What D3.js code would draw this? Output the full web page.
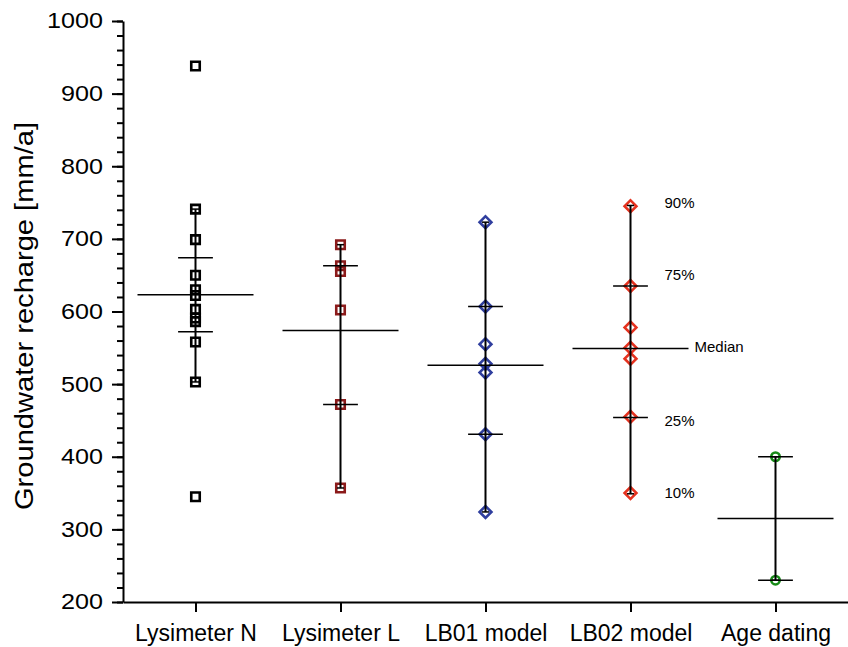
<!DOCTYPE html>
<html>
<head>
<meta charset="utf-8">
<script src="https://cdn.jsdelivr.net/npm/d3@7"></script>
<style>
  body { margin: 0; background: #fff; }
  svg { font-family: "Liberation Sans", Arial, sans-serif; }
</style>
</head>
<body>
<div id="svgcontainer"></div>
<script>
// values
const categories = ["Lysimeter N", "Lysimeter L", "LB01 model", "LB02 model", "Age dating"];
const lysimeterN = [938, 741, 699, 650, 630, 622, 603, 591, 586, 558, 503, 345];
const lysimeterL = [692, 663, 655, 602, 472, 357];
const lb01Model = [723, 607, 555, 528, 516, 431, 324];
const lb02Model = [745, 635, 578, 550, 535, 455, 350];
const ageDating = [400, 230];
const p90 = [741, 692, 723, 746, 400];
const p75 = [674, 663, 607, 635, 400];
const median = [623, 574, 526, 549, 315];
const p25 = [572, 472, 431, 454, 230];
const p10 = [503, 357, 324, 349, 230];
const noteLabels = ["90%", "75%", "Median", "25%", "10%"];
const noteLevels = [750, 650, 552, 450, 350];
const yTicks = [200, 300, 400, 500, 600, 700, 800, 900, 1000];

let width = 848;
let height = 647;
let margins = { top: 21, right: 0, bottom: 45, left: 123 };

let series = [
    { values: lysimeterN, shape: d3.symbolSquare, size: 72, rotate: 0, color: "#000000" },
    { values: lysimeterL, shape: d3.symbolSquare, size: 72, rotate: 0, color: "#8b1a1a" },
    { values: lb01Model, shape: d3.symbolSquare, size: 70, rotate: 45, color: "#2f3e9e" },
    { values: lb02Model, shape: d3.symbolSquare, size: 70, rotate: 45, color: "#e5321f" },
    { values: ageDating, shape: d3.symbolCircle, size: 56, rotate: 0, color: "#178a17" }
];
series.forEach((s, i) => {
    s.cat = categories[i];
    s.p90 = p90[i]; s.p75 = p75[i]; s.median = median[i]; s.p25 = p25[i]; s.p10 = p10[i];
});

let svg = d3.select("#svgcontainer")
    .append("svg")
    .attr("width", width)
    .attr("height", height);

let x = d3.scalePoint()
    .domain(categories)
    .range([margins.left, width - margins.right])
    .padding(0.5);
let y = d3.scaleLinear()
    .domain([200, 1000])
    .range([height - margins.bottom, margins.top]);
let step = x.step();

// axes
let yAxis = svg.append("g")
    .attr("class", "yaxis axis")
    .attr("transform", "translate(" + margins.left + ",0)");
yAxis.call(d3.axisLeft(y).tickValues(d3.range(200, 1001, 20)).tickSize(6).tickSizeOuter(0).tickFormat(""));
yAxis.append("g")
    .call(d3.axisLeft(y).tickValues(yTicks).tickSize(11).tickSizeOuter(0).tickPadding(9).tickFormat(d3.format("d")))
    .call(g => g.select(".domain").remove())
    .selectAll("text")
    .attr("font-size", 21.5)
    .attr("font-family", "Liberation Sans, Arial, sans-serif")
    .attr("fill", "#000")
    .attr("x", -20 / 1.17)
    .attr("transform", "scale(1.17,1)");
yAxis.selectAll("path, line").attr("stroke", "#000").attr("stroke-width", 2);

let xAxis = svg.append("g")
    .attr("class", "xaxis axis")
    .attr("transform", "translate(0," + y(200) + ")")
    .call(d3.axisBottom(x).tickSize(10).tickSizeOuter(0).tickPadding(13));
xAxis.selectAll("path, line").attr("stroke", "#000").attr("stroke-width", 2);
xAxis.selectAll("text")
    .attr("font-size", 23)
    .attr("font-family", "Liberation Sans, Arial, sans-serif")
    .attr("fill", "#000");

svg.append("text")
    .attr("transform", "translate(33," + 316 + ") rotate(-90)")
    .attr("text-anchor", "middle")
    .attr("font-size", 25)
    .attr("textLength", 388)
    .attr("lengthAdjust", "spacingAndGlyphs")
    .text("Groundwater recharge [mm/a]");

// points
let groups = svg.selectAll("g.cat")
    .data(series)
    .enter()
    .append("g")
    .attr("class", "cat")
    .attr("transform", d => "translate(" + x(d.cat) + ",0)");

groups.each(function (s) {
    let g = d3.select(this);
    g.selectAll("path.pt")
        .data(s.values)
        .enter()
        .append("path")
        .attr("class", "pt")
        .attr("d", d3.symbol().type(s.shape).size(s.size))
        .attr("transform", d => "translate(0," + y(d) + ") rotate(" + s.rotate + ")")
        .attr("fill", "none")
        .attr("stroke", s.color)
        .attr("stroke-width", 2.6);

    // percentile range and markers
    g.append("line")
        .attr("x1", 0).attr("x2", 0)
        .attr("y1", y(s.p90)).attr("y2", y(s.p10))
        .attr("stroke", "#000").attr("stroke-width", 2);
    [s.p90, s.p10].forEach(v => {
        g.append("line")
            .attr("x1", -3.5).attr("x2", 3.5)
            .attr("y1", y(v)).attr("y2", y(v))
            .attr("stroke", "#000").attr("stroke-width", 1.5);
    });
    [s.p75, s.p25].forEach(v => {
        g.append("line")
            .attr("x1", -step * 0.12).attr("x2", step * 0.12)
            .attr("y1", y(v)).attr("y2", y(v))
            .attr("stroke", "#000").attr("stroke-width", 1.5);
    });
    g.append("line")
        .attr("x1", -step * 0.4).attr("x2", step * 0.4)
        .attr("y1", y(s.median)).attr("y2", y(s.median))
        .attr("stroke", "#000").attr("stroke-width", 1.5);
});

// percentile notes beside LB02 model
let noteX = x("LB02 model");
svg.append("g")
    .attr("class", "notes")
    .selectAll("text")
    .data(noteLabels)
    .enter()
    .append("text")
    .attr("x", (d, i) => d === "Median" ? noteX + step * 0.4 + 6 : noteX + 34)
    .attr("y", (d, i) => y(noteLevels[i]))
    .attr("dy", "0.35em")
    .attr("font-size", 15)
    .attr("fill", "#000")
    .text(d => d);
</script>
</body>
</html>
